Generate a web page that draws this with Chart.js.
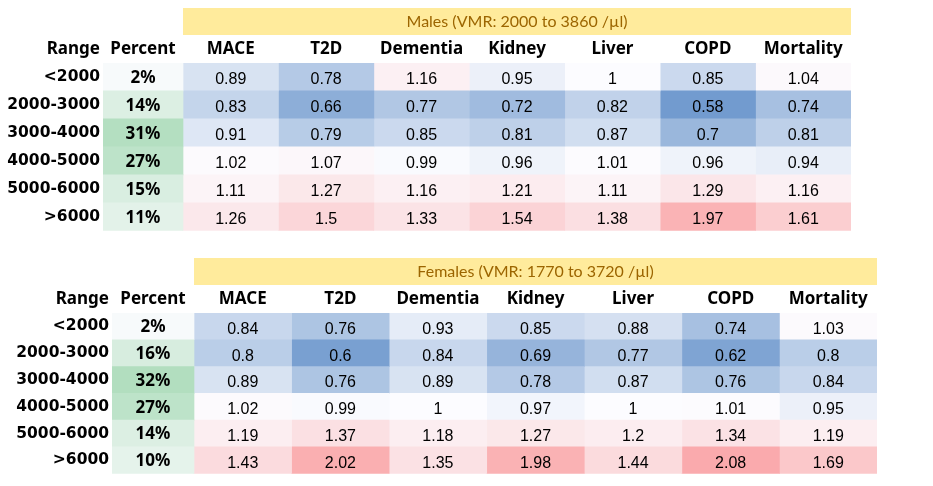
<!DOCTYPE html>
<html>
<head>
<meta charset="utf-8">
<script src="https://cdn.jsdelivr.net/npm/chart.js@4.4.1/dist/chart.umd.min.js"></script>
<style>
    body { margin: 0; background: #fff; }
    #wrap { position: relative; width: 933px; height: 486px; }
    canvas { position: absolute; left: 0; }
</style>
</head>
<body>
<div id="wrap">
    <canvas id="males" width="933" height="243" style="top:0"></canvas>
    <canvas id="females" width="933" height="243" style="top:243px"></canvas>
</div>
<script>
// Данные таблиц
const ranges = ['<2000', '2000-3000', '3000-4000', '4000-5000', '5000-6000', '>6000'];
const diseases = ['MACE', 'T2D', 'Dementia', 'Kidney', 'Liver', 'COPD', 'Mortality'];

const malesTitle = 'Males (VMR: 2000 to 3860 /µl)';
const malesPercent = [2, 14, 31, 27, 15, 11];
const malesValues = [
    [0.89, 0.78, 1.16, 0.95, 1, 0.85, 1.04],
    [0.83, 0.66, 0.77, 0.72, 0.82, 0.58, 0.74],
    [0.91, 0.79, 0.85, 0.81, 0.87, 0.7, 0.81],
    [1.02, 1.07, 0.99, 0.96, 1.01, 0.96, 0.94],
    [1.11, 1.27, 1.16, 1.21, 1.11, 1.29, 1.16],
    [1.26, 1.5, 1.33, 1.54, 1.38, 1.97, 1.61]
];

const femalesTitle = 'Females (VMR: 1770 to 3720 /µl)';
const femalesPercent = [2, 16, 32, 27, 14, 10];
const femalesValues = [
    [0.84, 0.76, 0.93, 0.85, 0.88, 0.74, 1.03],
    [0.8, 0.6, 0.84, 0.69, 0.77, 0.62, 0.8],
    [0.89, 0.76, 0.89, 0.78, 0.87, 0.76, 0.84],
    [1.02, 0.99, 1, 0.97, 1, 1.01, 0.95],
    [1.19, 1.37, 1.18, 1.27, 1.2, 1.34, 1.19],
    [1.43, 2.02, 1.35, 1.98, 1.44, 2.08, 1.69]
];

const headFont = '"Noto Sans", sans-serif';
const rangeFont = '"DejaVu Sans", sans-serif';
const valueFont = '"Liberation Sans", Arial, sans-serif';

// Цветовые шкалы (как условное форматирование Excel)
function mix(a, b, t) {
    t = Math.max(0, Math.min(1, t));
    const c = a.map((v, i) => Math.round(v + (b[i] - v) * t));
    return `rgb(${c[0]},${c[1]},${c[2]})`;
}
const WHITE = [252, 252, 255];
function ratioColor(v) {
    if (v < 1) return mix(WHITE, [90, 138, 198], (1 - v) / 0.494);
    return mix(WHITE, [248, 105, 107], (v - 1) / 1.94);
}
function percentColor(p) {
    return mix(WHITE, [99, 190, 123], p / 66);
}

// Плагин для текста в ячейках и заголовков
const tablePlugin = {
    id: 'tableText',
    afterDatasetsDraw(chart, args, opts) {
        const ctx = chart.ctx;
        const area = chart.chartArea;
        ctx.save();
        ctx.textAlign = 'center';
        ctx.textBaseline = 'middle';
        chart.data.datasets.forEach((ds, di) => {
            const meta = chart.getDatasetMeta(di);
            let cx = 0;
            meta.data.forEach((bar, ri) => {
                cx = (bar.x + bar.base) / 2;
                if (ds.isPercent) {
                    ctx.font = `bold 17px ${headFont}`;
                    ctx.fillStyle = '#000';
                    ctx.fillText(ds.cells[ri] + '%', cx, bar.y + 1);
                } else {
                    ctx.font = `16px ${valueFont}`;
                    ctx.fillStyle = '#000';
                    ctx.fillText(String(ds.cells[ri]), cx, bar.y + 3);
                }
            });
            // заголовок столбца
            ctx.font = `bold 17px ${headFont}`;
            ctx.fillStyle = '#000';
            ctx.fillText(ds.label, cx, area.top - 14);
        });
        // заголовок "Range"
        const yScale = chart.scales.y;
        ctx.textAlign = 'right';
        ctx.fillText('Range', yScale.right - 3, area.top - 14);

        // жёлтая полоса с названием
        const first = chart.getDatasetMeta(1).data[0];
        const left = Math.min(first.x, first.base);
        ctx.fillStyle = '#FFEB9C';
        ctx.fillRect(left, area.top - 55, area.right - left, 27);
        ctx.fillStyle = '#9C6500';
        ctx.font = `16px Lato, ${headFont}`;
        ctx.textAlign = 'center';
        ctx.fillText(opts.title, (left + area.right) / 2, area.top - 41);
        ctx.restore();
    }
};

function makeTable(id, title, percent, values, layout) {
    const widths = [layout.percentWidth].concat(diseases.map(() => layout.colWidth));
    const edges = [0];
    widths.forEach(w => edges.push(edges[edges.length - 1] + w));

    const datasets = [{
        label: 'Percent',
        isPercent: true,
        cells: percent,
        data: ranges.map(() => [edges[0], edges[1]]),
        backgroundColor: percent.map(percentColor)
    }];
    diseases.forEach((name, ci) => {
        const col = values.map(row => row[ci]);
        datasets.push({
            label: name,
            cells: col,
            data: ranges.map(() => [edges[ci + 1], edges[ci + 2]]),
            backgroundColor: col.map(ratioColor)
        });
    });
    datasets.forEach(ds => {
        ds.grouped = false;
        ds.barPercentage = 1;
        ds.categoryPercentage = 1;
        ds.borderWidth = 0;
        ds.borderSkipped = false;
    });

    new Chart(document.getElementById(id), {
        type: 'bar',
        data: { labels: ranges, datasets: datasets },
        options: {
            indexAxis: 'y',
            responsive: false,
            animation: false,
            layout: { padding: { top: layout.top, right: layout.right, bottom: layout.bottom, left: 0 } },
            plugins: {
                legend: { display: false },
                tooltip: { enabled: false },
                tableText: { title: title }
            },
            scales: {
                x: { type: 'linear', min: 0, max: edges[edges.length - 1], display: false },
                y: {
                    type: 'category',
                    grid: { display: false, drawTicks: false },
                    border: { display: false },
                    ticks: {
                        padding: 3,
                        color: '#000',
                        font: { family: rangeFont, size: 15.5, weight: 'bold' }
                    },
                    afterFit(axis) { axis.width = layout.left; }
                }
            }
        },
        plugins: [tablePlugin]
    });
}

makeTable('males', malesTitle, malesPercent, malesValues,
    { left: 103, percentWidth: 80, colWidth: 95.43, top: 63, right: 82, bottom: 12 });
makeTable('females', femalesTitle, femalesPercent, femalesValues,
    { left: 112, percentWidth: 82, colWidth: 97.57, top: 70, right: 56, bottom: 5 });
</script>
</body>
</html>
